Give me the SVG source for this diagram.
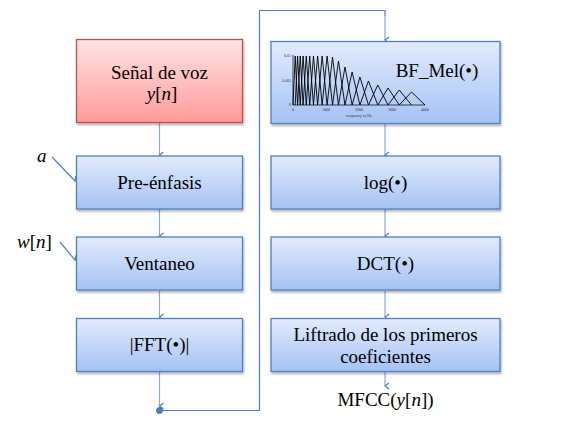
<svg xmlns="http://www.w3.org/2000/svg" width="566" height="426" viewBox="0 0 566 426" font-family="Liberation Serif, Times New Roman, DejaVu Serif, serif">
<defs>
<linearGradient id="gb" x1="0" y1="0" x2="0" y2="1"><stop offset="0" stop-color="#e2ebfd"/><stop offset="1" stop-color="#a5c2f4"/></linearGradient>
<linearGradient id="gr" x1="0" y1="0" x2="0" y2="1"><stop offset="0" stop-color="#ffe4e4"/><stop offset="1" stop-color="#ff9a9a"/></linearGradient>
<filter id="sh" x="-5%" y="-10%" width="115%" height="130%"><feDropShadow dx="1" dy="2" stdDeviation="1" flood-color="#000" flood-opacity="0.3"/></filter>
<marker id="ar" markerWidth="8" markerHeight="8" refX="4" refY="6" orient="auto" markerUnits="userSpaceOnUse" viewBox="0 0 8 8"><path d="M1,2 L4,6 L7,2" fill="none" stroke="#4f81bd" stroke-width="1.2"/></marker>
<clipPath id="cp"><rect x="290" y="56" width="140" height="50"/></clipPath>
</defs>
<style>
.bx{fill:url(#gb);stroke:#4f81bd;stroke-width:1.3;filter:url(#sh)}
.rx{fill:url(#gr);stroke:#c0504d;stroke-width:1.3;filter:url(#sh)}
text{font-family:"Liberation Serif","Times New Roman","DejaVu Serif",serif;font-size:19px;fill:#000}
.c{text-anchor:middle}
.i{font-style:italic}
.tiny{font-size:4px;fill:#333}
.cn{fill:none;stroke:#4f81bd;stroke-width:1.2}
.cl{fill:none;stroke:#8eaad4;stroke-width:1.2;marker-end:url(#ar)}
.tr{fill:none;stroke:#000;stroke-width:0.9;stroke-linejoin:miter}
</style>

<g id="connectors">
<line class="cl" x1="159.5" y1="123" x2="159.5" y2="155"/>
<line class="cl" x1="159.5" y1="209" x2="159.5" y2="236"/>
<line class="cl" x1="159.5" y1="291" x2="159.5" y2="317"/>
<line class="cl" x1="159.5" y1="372" x2="159.5" y2="406"/>
<polyline class="cn" points="159.5,410.5 259.5,410.5 259.5,10.5 385,10.5 385,16"/>
<line class="cl" x1="385" y1="16" x2="385" y2="40"/>
<line class="cl" x1="385" y1="124" x2="385" y2="155"/>
<line class="cl" x1="385" y1="209" x2="385" y2="236"/>
<line class="cl" x1="385" y1="291" x2="385" y2="317"/>
<line class="cl" x1="385" y1="372" x2="385" y2="386"/>
<circle cx="159.5" cy="410.5" r="3" fill="#4f81bd" stroke="#2f5f9a" stroke-width="0.8"/>
<line class="cn" x1="52" y1="157" x2="75" y2="181" marker-end="url(#ar)"/>
<line class="cn" x1="60" y1="242" x2="75" y2="260" marker-end="url(#ar)"/>
</g>

<g id="in-a"><text class="i" x="37" y="162">a</text></g>
<g id="in-w"><text x="17" y="248"><tspan class="i">w</tspan>[<tspan class="i">n</tspan>]</text></g>

<g id="senal">
<rect class="rx" x="76.5" y="39.5" width="166" height="83"/>
<text class="c" x="159.5" y="79">Señal de voz</text>
<text class="c" x="162" y="100"><tspan class="i">y</tspan>[<tspan class="i">n</tspan>]</text>
</g>
<g id="preenfasis">
<rect class="bx" x="76.5" y="156" width="166" height="53"/>
<text class="c" x="159.5" y="189">Pre-énfasis</text>
</g>
<g id="ventaneo">
<rect class="bx" x="76.5" y="237" width="166" height="53"/>
<text class="c" x="159.5" y="270">Ventaneo</text>
</g>
<g id="fft">
<rect class="bx" x="76.5" y="318.5" width="166" height="53"/>
<text class="c" x="159.5" y="351">|FFT(•)|</text>
</g>

<g id="bfmel">
<rect class="bx" x="271" y="41.5" width="229" height="82"/>
<text class="c" x="437" y="77">BF_Mel(•)</text>
<g clip-path="url(#cp)">
<polyline class="tr" points="293,105 295.19,56 297.59,105"/>
<polyline class="tr" points="295.19,105 297.59,56 300.22,105"/>
<polyline class="tr" points="297.59,105 300.22,56 303.10,105"/>
<polyline class="tr" points="300.22,105 303.10,56 306.25,105"/>
<polyline class="tr" points="303.10,105 306.25,56 309.70,105"/>
<polyline class="tr" points="306.25,105 309.70,56 313.47,105"/>
<polyline class="tr" points="309.70,105 313.47,56 317.61,105"/>
<polyline class="tr" points="313.47,105 317.61,56 322.14,105"/>
<polyline class="tr" points="317.61,105 322.14,56 327.10,105"/>
<polyline class="tr" points="322.14,105 327.10,56 332.53,105"/>
<polyline class="tr" points="327.10,105 332.53,57 338.47,105"/>
<polyline class="tr" points="332.53,105 338.47,61 344.98,105"/>
<polyline class="tr" points="338.47,105 344.98,67 352.10,105"/>
<polyline class="tr" points="344.98,105 352.10,72 359.91,105"/>
<polyline class="tr" points="352.10,105 359.91,77 368.45,105"/>
<polyline class="tr" points="359.91,105 368.45,81 377.81,105"/>
<polyline class="tr" points="368.45,105 377.81,85 388.05,105"/>
<polyline class="tr" points="377.81,105 388.05,88 399.26,105"/>
<polyline class="tr" points="388.05,105 399.26,90 411.54,105"/>
<polyline class="tr" points="399.26,105 411.54,92 425,105"/>
</g>
<polyline fill="none" stroke="#000" stroke-width="0.7" points="293,55 293,105 425,105"/>
<text class="tiny" x="291" y="57" text-anchor="end">0.01</text>
<text class="tiny" x="291" y="82" text-anchor="end">0.005</text>
<text class="tiny" x="291" y="106" text-anchor="end">0</text>
<text class="tiny c" x="293" y="111">0</text>
<text class="tiny c" x="326" y="111">1000</text>
<text class="tiny c" x="359" y="111">2000</text>
<text class="tiny c" x="392" y="111">3000</text>
<text class="tiny c" x="425" y="111">4000</text>
<text class="tiny c" x="359" y="117">frequency in Hz</text>
</g>
<g id="log">
<rect class="bx" x="271" y="156" width="229" height="53"/>
<text class="c" x="385.5" y="189">log(•)</text>
</g>
<g id="dct">
<rect class="bx" x="271" y="237" width="229" height="53"/>
<text class="c" x="385.5" y="270">DCT(•)</text>
</g>
<g id="liftrado">
<rect class="bx" x="271" y="318.5" width="229" height="53"/>
<text class="c" x="385.5" y="341">Liftrado de los primeros</text>
<text class="c" x="385.5" y="363">coeficientes</text>
</g>
<g id="mfcc"><text class="c" x="385.5" y="406">MFCC(<tspan class="i">y</tspan>[<tspan class="i">n</tspan>])</text></g>
</svg>
